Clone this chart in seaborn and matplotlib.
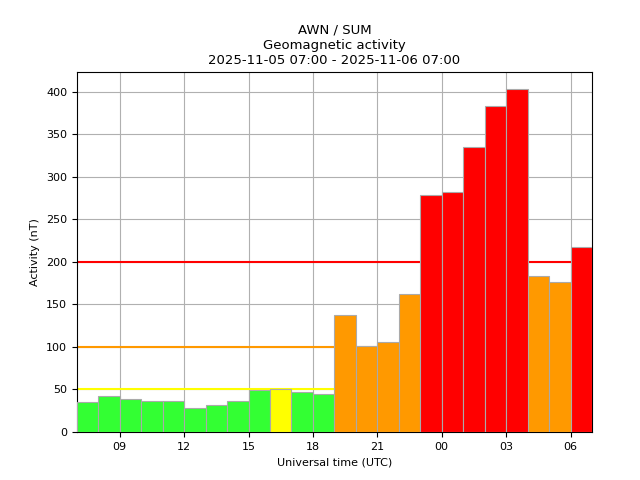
import numpy as np
import pandas as pd
import seaborn as sns
import matplotlib
matplotlib.use("Agg")
import matplotlib.pyplot as plt

# hourly sums, 2025-11-05 07:00 -> 2025-11-06 06:00
hours = ["07", "08", "09", "10", "11", "12", "13", "14", "15", "16", "17", "18",
         "19", "20", "21", "22", "23", "00", "01", "02", "03", "04", "05", "06"]
activity = [35, 42, 39, 37, 37, 28, 32, 37, 49, 51, 47, 45,
            138, 101, 106, 162, 278, 282, 335, 383, 403, 183, 176, 218]

thresholds = [50, 100, 200]
threshold_colors = ["#ffff00", "#ff9900", "#ff0000"]
level_colors = {"quiet": "#33ff33", "low": "#ffff00", "moderate": "#ff9900", "high": "#ff0000"}
tick_hours = ["09", "12", "15", "18", "21", "00", "03", "06"]


def level(v):
    if v < 50:
        return "quiet"
    if v < 100:
        return "low"
    if v < 200:
        return "moderate"
    return "high"


df = pd.DataFrame({"pos": np.arange(len(hours)) + 0.5, "hour": hours, "activity": activity})
df["level"] = df["activity"].apply(level)

fig, ax = plt.subplots(figsize=(6.4, 4.8), dpi=100)
fig.subplots_adjust(left=0.12, right=0.925, bottom=0.1, top=0.85)

sns.barplot(data=df, x="pos", y="activity", hue="level", palette=level_colors,
            native_scale=True, width=1, dodge=False, saturation=1,
            edgecolor="#aaaaaa", linewidth=0.8, legend=False, zorder=3, ax=ax)

for t, c in zip(thresholds, threshold_colors):
    ax.axhline(t, color=c, lw=1.5, zorder=2)

# ticks sit on the start of each labelled hour
ax.set_xlim(0, len(hours))
ax.set_xticks([hours.index(h) for h in tick_hours])
ax.set_xticklabels(tick_hours)
ax.set_ylim(0, max(activity) * 1.05)
ax.set_yticks(range(0, 401, 50))
ax.grid(True, color="#b0b0b0", lw=0.8)
ax.tick_params(labelsize=8)
ax.set_xlabel("Universal time (UTC)", fontsize=8)
ax.set_ylabel("Activity (nT)", fontsize=8)
ax.set_title("AWN / SUM\nGeomagnetic activity\n2025-11-05 07:00 - 2025-11-06 07:00", fontsize=9.5)

fig.savefig("out.png", dpi=100)
